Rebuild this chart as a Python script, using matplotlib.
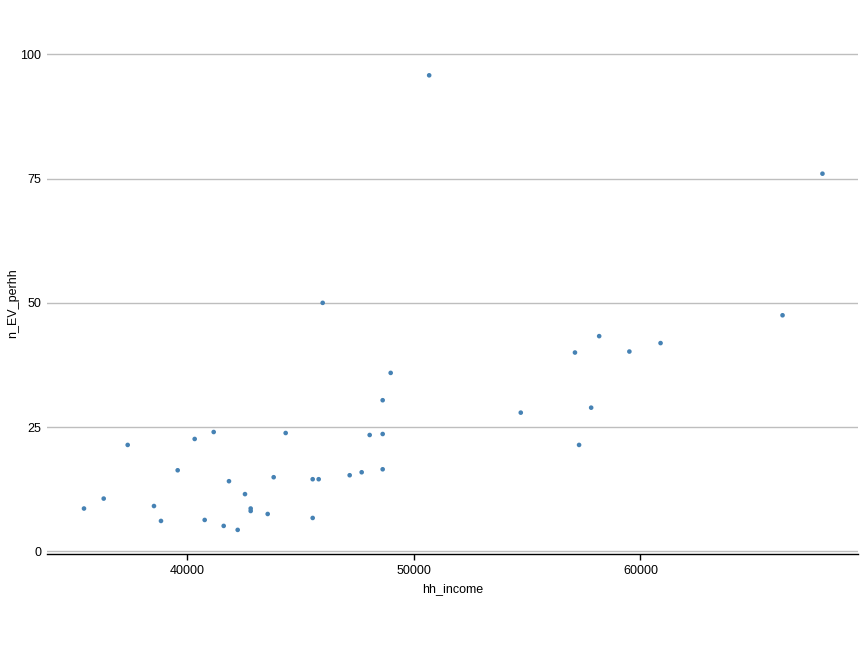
import matplotlib
matplotlib.use('Agg')
import matplotlib.pyplot as plt

# household income vs EVs per household
hh_income = [35463, 36332, 37390, 38549, 38858, 39594, 40344, 40785, 41182,
             41623, 41856, 42240, 42562, 42813, 42813, 43563, 43827, 44356,
             45547, 45547, 45811, 45988, 47178, 47707, 48060, 48633, 48633,
             48633, 48986, 50683, 54722, 57112, 57293, 57826, 58179, 59511,
             60886, 66265, 68025]
n_EV_perhh = [8.6, 10.6, 21.4, 9.1, 6.1, 16.3, 22.6, 6.3, 24.0,
              5.1, 14.1, 4.3, 11.5, 8.6, 8.1, 7.5, 14.9, 23.8,
              6.7, 14.5, 14.5, 50.0, 15.3, 15.9, 23.4, 23.6, 16.5,
              30.4, 35.9, 95.8, 27.9, 40.0, 21.4, 28.9, 43.3, 40.2,
              41.9, 47.5, 76.0]
x_ticks = [40000, 50000, 60000]
y_ticks = [0, 25, 50, 75, 100]

plt.rcParams['font.family'] = ['Liberation Sans', 'DejaVu Sans']

fig = plt.figure(figsize=(8.64, 6.48), dpi=100)
ax = fig.add_axes([0.0544, 0.1451, 0.9386, 0.7747])

ax.scatter(hh_income, n_EV_perhh, s=11, color='#4682b4', edgecolors='none', zorder=3)

ax.set_xlim(33832, 69590)
ax.set_ylim(-0.55, 100.5)
ax.set_xticks(x_ticks)
ax.set_yticks(y_ticks)
ax.set_xticklabels([str(v) for v in x_ticks])
ax.set_yticklabels([str(v) for v in y_ticks])

ax.grid(axis='y', color='#bebebe', linewidth=1.0)
ax.set_axisbelow(True)
for side in ['top', 'right', 'left']:
    ax.spines[side].set_visible(False)
ax.spines['bottom'].set_color('black')
ax.spines['bottom'].set_linewidth(1.0)

ax.tick_params(axis='x', length=4, width=1, color='black', labelsize=9, pad=4)
ax.tick_params(axis='y', length=0, labelsize=9, pad=4)

ax.set_xlabel('hh_income', fontsize=9, labelpad=4)
ax.set_ylabel('n_EV_perhh', fontsize=9)
ax.yaxis.set_label_coords(-0.034, 0.5)

fig.savefig('out.png', dpi=100)
